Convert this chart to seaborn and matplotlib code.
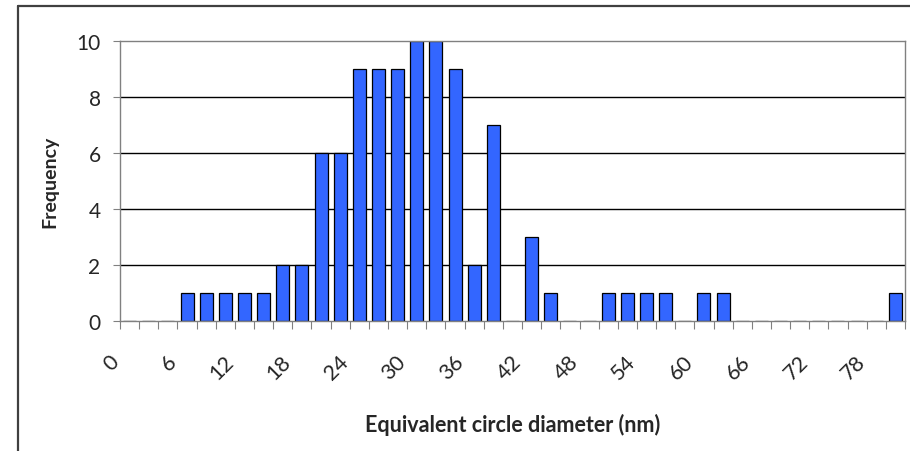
import matplotlib
matplotlib.use("Agg")
import matplotlib.pyplot as plt
import matplotlib.transforms as mtransforms
from matplotlib.lines import Line2D
import seaborn as sns
import pandas as pd

# data
diameters = list(range(0, 82, 2))  # category labels (nm)
frequency = [0, 0, 0, 1, 1, 1, 1, 1, 2, 2, 6, 6, 9, 9, 9, 10, 10, 9, 2, 7,
             0, 3, 1, 0, 0, 1, 1, 1, 1, 0, 1, 1, 0, 0, 0, 0, 0, 0, 0, 0, 1]
shown_labels = [str(v) for v in range(0, 79, 6)]
x_title = "Equivalent circle diameter (nm)"
y_title = "Frequency"

sns.set_style("white")
plt.rcParams['font.family'] = ['Lato', 'DejaVu Sans']

df = pd.DataFrame({"d": [str(v) for v in diameters], "f": frequency})

W, H = 910, 452
fig = plt.figure(figsize=(W / 100, H / 100), dpi=100)
ax = fig.add_axes([120 / W, 1 - 322 / H, (905 - 120) / W, (322 - 42) / H])

sns.barplot(data=df, x="d", y="f", order=df["d"], color="#3366FF",
            saturation=1, edgecolor="black", linewidth=0.9, width=0.68, ax=ax)

ax.set_xlim(-0.5, len(diameters) - 0.5)
ax.set_ylim(0, 10)
ax.set_yticks(range(0, 11, 2))
ax.tick_params(axis="y", labelsize=15, length=5, width=0.8, color="#808080",
               direction="out", pad=9, left=True)

# x: minor ticks at category boundaries, labels every third category
ax.set_xticks([i - 0.5 for i in range(len(diameters) + 1)], minor=True)
ax.set_xticks(list(range(0, len(diameters), 3)))
ax.set_xticklabels(shown_labels, rotation=45, ha="right", va="center",
                   rotation_mode="anchor")
ax.tick_params(axis="x", which="major", length=0, labelsize=15.5, pad=27)
ax.tick_params(axis="x", which="minor", length=6, width=0.8, color="#808080",
               direction="out", bottom=True)
offset = mtransforms.ScaledTranslation(-14 / 100, 0, fig.dpi_scale_trans)
for lab in ax.get_xticklabels():
    lab.set_transform(lab.get_transform() + offset)

ax.yaxis.grid(True, color="black", linewidth=1.0)
ax.set_axisbelow(True)
gl = ax.get_ygridlines()
gl[0].set_visible(False)
gl[-1].set_visible(False)

for s in ["left", "right", "top", "bottom"]:
    ax.spines[s].set_visible(True)
    ax.spines[s].set_color("#808080")
    ax.spines[s].set_linewidth(1.0)

ax.set_xlabel(x_title, fontsize=15.5, fontweight="bold")
ax.set_ylabel(y_title, fontsize=14, fontweight="bold")
ax.xaxis.set_label_coords((513 - 120) / (905 - 120), -(414 - 322) / (322 - 42))
ax.yaxis.set_label_coords(-(120 - 58) / (905 - 120), 0.5)

# chart frame
fig.add_artist(Line2D([18 / W, 18 / W], [1 - 7 / H, -0.1], color="#404040",
                      linewidth=1.6, transform=fig.transFigure))
fig.add_artist(Line2D([18 / W, 1.1], [1 - 7 / H, 1 - 7 / H], color="#404040",
                      linewidth=1.6, transform=fig.transFigure))

fig.savefig("out.png", dpi=100)
